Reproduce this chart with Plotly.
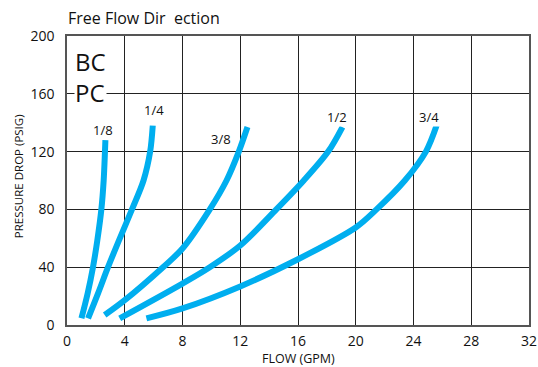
import plotly.graph_objects as go

# curve data (flow in GPM, pressure drop in PSIG)
sizes = ["1/8", "1/4", "3/8", "1/2", "3/4"]
flow_18 = [1.0, 1.43, 1.80, 2.1, 2.38, 2.54, 2.63, 2.66]
psi_18 = [4.6, 21.9, 40, 58.6, 80, 100, 120, 128]
flow_14 = [1.46, 2.15, 2.84, 3.6, 4.5, 5.3, 5.76, 5.94]
psi_14 = [4.6, 21.9, 40, 58.6, 80, 100, 120, 138]
flow_38 = [2.61, 4.0, 6.65, 8.0, 9.89, 11.05, 11.9, 12.5]
psi_38 = [6.9, 17.2, 40, 52.9, 80, 100, 120, 137]
flow_12 = [3.65, 8.0, 9.89, 12.0, 14.5, 16.4, 18.09, 19.08]
psi_12 = [4.6, 28.7, 40, 55, 80, 100, 120, 137]
flow_34 = [5.5, 8.0, 12.0, 16.0, 20.0, 21.44, 23.4, 24.86, 25.6]
psi_34 = [4.6, 11.5, 26.7, 45.5, 67.5, 80, 100, 120, 138]

# label anchor points (flow, psi)
label_x = [2.5, 6.0, 10.7, 18.67, 25.1]
label_y = [135, 149, 129, 144, 144]

x_ticks = [0, 4, 8, 12, 16, 20, 24, 28, 32]
y_ticks = [0, 40, 80, 120, 160, 200]

BLUE = "#00aeef"
INK = "#111111"
FONT = "Open Sans"

fig = go.Figure()
series = [(flow_18, psi_18), (flow_14, psi_14), (flow_38, psi_38),
          (flow_12, psi_12), (flow_34, psi_34)]
for name, (fx, py) in zip(sizes, series):
    fig.add_trace(go.Scatter(
        x=fx, y=py, mode="lines", name=name,
        line=dict(color=BLUE, width=6, shape="spline", smoothing=0.9),
        showlegend=False,
    ))

for name, lx, ly in zip(sizes, label_x, label_y):
    fig.add_annotation(x=lx, y=ly, text=name, showarrow=False,
                       font=dict(size=13, color=INK, family=FONT),
                       bgcolor="white", borderpad=0)

# series code block in the top-left corner (white box hides the 160 gridline)
fig.add_annotation(x=0.5, y=171.5, text="BC<br>PC", showarrow=False,
                   xanchor="left", align="left",
                   font=dict(size=24, color=INK, family=FONT),
                   bgcolor="white", borderpad=0)

# axis titles placed by hand
fig.add_annotation(x=16, y=0, yref="paper", yshift=-33, text="FLOW (GPM)",
                   showarrow=False, yanchor="middle",
                   font=dict(size=12.5, color=INK, family=FONT))
fig.add_annotation(x=0, xref="paper", xshift=-49, y=103,
                   text="PRESSURE DROP (PSIG)", textangle=-90,
                   showarrow=False, xanchor="center",
                   font=dict(size=11.5, color=INK, family=FONT))

fig.update_layout(
    width=538, height=367,
    margin=dict(l=67, r=9, t=36, b=42),
    paper_bgcolor="white", plot_bgcolor="white",
    font=dict(family=FONT, color=INK),
    title=dict(text="Free Flow Dir  ection", x=68 / 538, xanchor="left",
               xref="container", y=1 - 18 / 367, yanchor="middle",
               font=dict(size=16, color=INK)),
    xaxis=dict(range=[0, 32], tickvals=x_ticks, showgrid=True,
               gridcolor="#222", gridwidth=1, zeroline=False, automargin=False,
               showline=True, linecolor="#555", linewidth=1.5, mirror=True,
               tickfont=dict(size=14), ticklabelstandoff=2),
    yaxis=dict(range=[0, 200], tickvals=y_ticks, showgrid=True,
               gridcolor="#222", gridwidth=1, zeroline=False, automargin=False,
               showline=True, linecolor="#555", linewidth=1.5, mirror=True,
               tickfont=dict(size=14), ticklabelstandoff=8),
)

# drop the default 8px body margin so the figure fills the window exactly
fig.write_html("out.html", config={"displayModeBar": False},
               post_script="document.body.style.margin='0';")
